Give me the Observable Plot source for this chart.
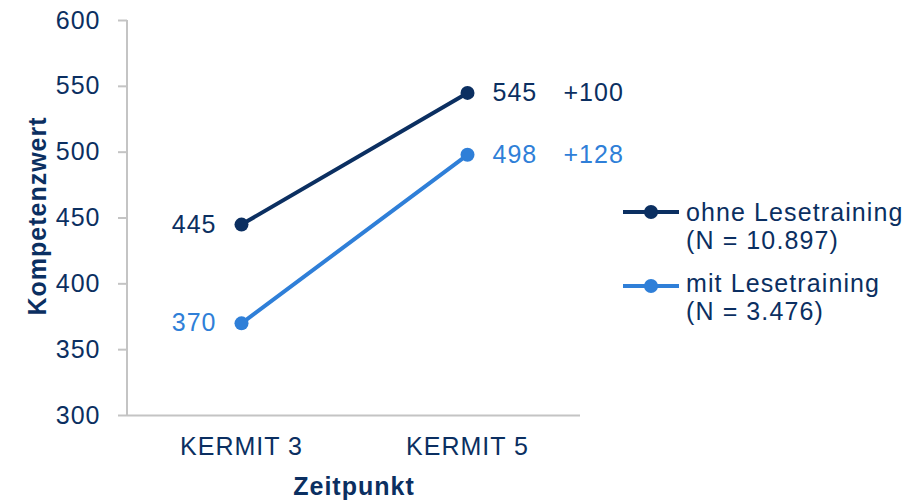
<!DOCTYPE html>
<html>
<head>
<meta charset="utf-8">
<script src="https://cdn.jsdelivr.net/npm/d3@7"></script>
<script src="https://cdn.jsdelivr.net/npm/@observablehq/plot@0.6"></script>
<style>
  body { margin: 0; background: #fff; }
  #chart { position: relative; width: 924px; height: 501px; font-family: "Liberation Sans", Arial, sans-serif; }
  .legend-entry { position: absolute; left: 686px; color: #0b2f61; font-size: 25px; line-height: 28px; letter-spacing: 1.1px; white-space: nowrap; }
  .legend-swatch { position: absolute; left: 623px; }
</style>
</head>
<body>
<div id="chart"></div>
<script>
// Lesekompetenz zu zwei Messzeitpunkten, getrennt nach Teilnahme am Lesetraining
const timepoints = ["KERMIT 3", "KERMIT 5"];
const groups = ["ohne Lesetraining", "mit Lesetraining"];
const groupN = ["10.897", "3.476"];
const ohneValues = [445, 545];
const mitValues = [370, 498];
const yTicks = [300, 350, 400, 450, 500, 550, 600];
const groupColors = ["#0b2f61", "#2f7fd8"];

const navy = "#0b2f61";
const axisGray = "#c4c4c4";

const seriesValues = [ohneValues, mitValues];
const rows = [];
seriesValues.forEach((vals, g) => {
  vals.forEach((v, i) => rows.push({ zeit: timepoints[i], gruppe: groups[g], wert: v }));
});
const startRows = rows.filter(d => d.zeit === timepoints[0]);
const endRows = rows.filter(d => d.zeit === timepoints[1]).map(d => {
  const start = startRows.find(s => s.gruppe === d.gruppe);
  return { ...d, zuwachs: "+" + (d.wert - start.wert) };
});

// vertical axis line along the left edge of the frame
const leftAxisLine = (index, scales, values, dims) => {
  const line = document.createElementNS("http://www.w3.org/2000/svg", "line");
  line.setAttribute("x1", dims.marginLeft);
  line.setAttribute("x2", dims.marginLeft);
  line.setAttribute("y1", dims.marginTop);
  line.setAttribute("y2", dims.height - dims.marginBottom);
  line.setAttribute("stroke", axisGray);
  line.setAttribute("stroke-width", 2);
  return line;
};

const chart = Plot.plot({
  width: 924,
  height: 501,
  marginLeft: 127,
  marginRight: 344,
  marginTop: 20,
  marginBottom: 86,
  style: { fontFamily: "'Liberation Sans', Arial, sans-serif", fontSize: "25px", color: navy, background: "#fff", letterSpacing: "1px" },
  x: { type: "point", domain: timepoints, padding: 0.5 },
  y: { domain: [300, 600] },
  color: { domain: groups, range: groupColors },
  marks: [
    Plot.ruleY([300], { stroke: axisGray, strokeWidth: 2 }),
    leftAxisLine,
    Plot.axisY(yTicks, { tickSize: 9, tickPadding: 18, stroke: axisGray, strokeWidth: 2, fill: navy, label: null }),
    Plot.axisX({ tickSize: 0, tickPadding: 22, fill: navy, label: null }),
    Plot.text(["Kompetenzwert"], { frameAnchor: "left", textAnchor: "middle", rotate: -90, dx: -90, dy: -2, fontWeight: "bold", fill: navy }),
    Plot.text(["Zeitpunkt"], { frameAnchor: "bottom", textAnchor: "middle", dy: 79, fontWeight: "bold", fill: navy }),
    Plot.line(rows, { x: "zeit", y: "wert", z: "gruppe", stroke: "gruppe", strokeWidth: 4 }),
    Plot.dot(rows, { x: "zeit", y: "wert", fill: "gruppe", r: 7 }),
    Plot.text(startRows, { x: "zeit", y: "wert", text: "wert", fill: "gruppe", textAnchor: "end", dx: -25 }),
    Plot.text(endRows, { x: "zeit", y: "wert", text: "wert", fill: "gruppe", textAnchor: "start", dx: 25 }),
    Plot.text(endRows, { x: "zeit", y: "wert", text: "zuwachs", fill: "gruppe", textAnchor: "start", dx: 96 })
  ]
});

const container = document.getElementById("chart");
container.appendChild(chart);

// legend to the right of the plot
const legendTops = [197.5, 269];
const swatchCenters = [212, 286];
groups.forEach((g, k) => {
  const sw = document.createElementNS("http://www.w3.org/2000/svg", "svg");
  sw.setAttribute("class", "legend-swatch");
  sw.setAttribute("width", 56);
  sw.setAttribute("height", 16);
  sw.style.top = (swatchCenters[k] - 8) + "px";
  const ln = document.createElementNS("http://www.w3.org/2000/svg", "line");
  ln.setAttribute("x1", 0); ln.setAttribute("x2", 56);
  ln.setAttribute("y1", 8); ln.setAttribute("y2", 8);
  ln.setAttribute("stroke", groupColors[k]); ln.setAttribute("stroke-width", 4);
  const c = document.createElementNS("http://www.w3.org/2000/svg", "circle");
  c.setAttribute("cx", 28); c.setAttribute("cy", 8); c.setAttribute("r", 7);
  c.setAttribute("fill", groupColors[k]);
  sw.appendChild(ln); sw.appendChild(c);
  container.appendChild(sw);

  const entry = document.createElement("div");
  entry.className = "legend-entry";
  entry.style.top = legendTops[k] + "px";
  entry.innerHTML = g + "<br>(N = " + groupN[k] + ")";
  container.appendChild(entry);
});
</script>
</body>
</html>
